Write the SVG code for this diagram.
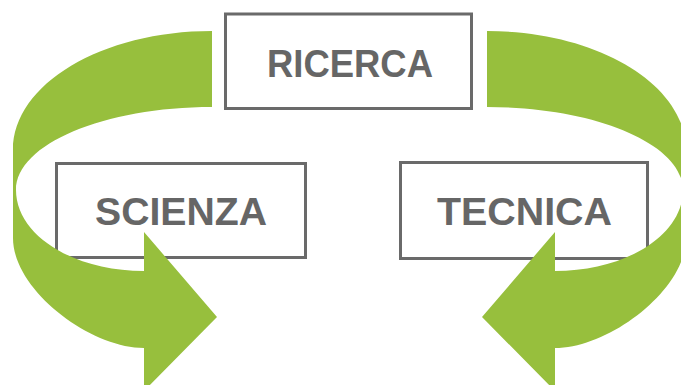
<svg xmlns="http://www.w3.org/2000/svg" width="681" height="385" viewBox="0 0 681 385">
<style>
.box{fill:#fff;stroke:#6a6a6a;stroke-width:3}
.lbl{font-family:"Liberation Sans",Arial,sans-serif;font-weight:bold;font-size:39px;fill:#666;text-anchor:middle}
.arr{fill:#97BF3D}
</style>
<defs>
<path id="curl" d="M212,31 L212,107 C104,107 16,144 16,190 C16,235 73,271 144,271 L144,232 L217,317 L144,391 L144,348 C90,348 13,290 13,238 L13,150 C13,84 102,31 212,31 Z"/>
</defs>
<rect width="681" height="385" fill="#fff"/>
<g id="ricerca">
<rect class="box" x="225.5" y="14" width="246" height="94.5"/>
<text class="lbl" x="350" y="77" textLength="166" lengthAdjust="spacingAndGlyphs">RICERCA</text>
</g>
<g id="scienza">
<rect class="box" x="56.5" y="163.5" width="249" height="94"/>
<text class="lbl" x="181" y="225" textLength="172" lengthAdjust="spacingAndGlyphs">SCIENZA</text>
</g>
<g id="tecnica">
<rect class="box" x="400.5" y="162.5" width="247" height="96"/>
<text class="lbl" x="524.5" y="225" textLength="175" lengthAdjust="spacingAndGlyphs">TECNICA</text>
</g>
<g id="connectors">
<use href="#curl" class="arr"/>
<use href="#curl" class="arr" transform="translate(699,0) scale(-1,1)"/>
</g>
</svg>
